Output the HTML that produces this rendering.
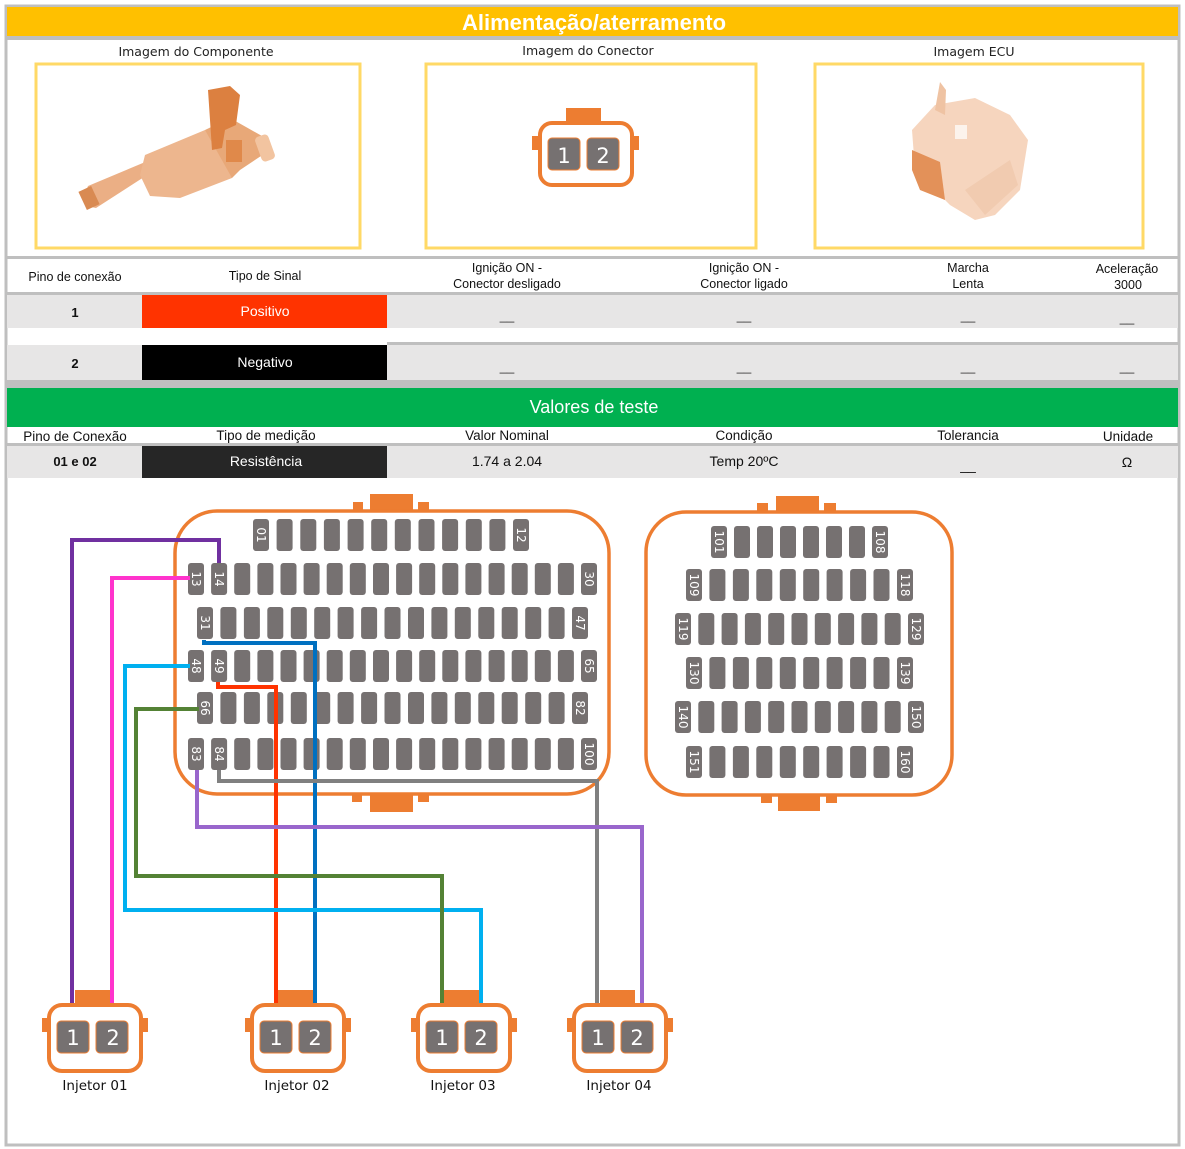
<!DOCTYPE html>
<html><head><meta charset="utf-8">
<style>
html,body{margin:0;padding:0;background:#fff;}
svg{display:block;font-family:"Liberation Sans",sans-serif;}
.c{font-family:"DejaVu Sans","Liberation Sans",sans-serif;}
</style></head>
<body>
<svg id="s" width="1185" height="1149" viewBox="0 0 1185 1149" xmlns="http://www.w3.org/2000/svg">
<!-- outer frame -->
<rect x="6" y="6" width="1173" height="1139" fill="#fff" stroke="#bfbfbf" stroke-width="3"/>
<!-- title bar -->
<rect x="7" y="7" width="1171" height="29" fill="#FFC000"/>
<rect x="7" y="36" width="1171" height="4" fill="#bfbfbf"/>
<text x="594" y="30" text-anchor="middle" font-size="22" font-weight="bold" fill="#fff">Alimentação/aterramento</text>
<!-- image labels -->
<text class="c" x="196" y="56" text-anchor="middle" font-size="12.5" fill="#222">Imagem do Componente</text>
<text class="c" x="588" y="55" text-anchor="middle" font-size="12.5" fill="#222">Imagem do Conector</text>
<text class="c" x="974" y="56" text-anchor="middle" font-size="12.5" fill="#222">Imagem ECU</text>
<rect x="36" y="64" width="324" height="184" fill="none" stroke="#FFD966" stroke-width="3"/>
<rect x="426" y="64" width="330" height="184" fill="none" stroke="#FFD966" stroke-width="3"/>
<rect x="815" y="64" width="328" height="184" fill="none" stroke="#FFD966" stroke-width="3"/>
<!-- injector image approximation -->
<g fill="#E9A572">
<polygon points="84,196 88,186 150,160 158,168 96,208 86,206" fill="#EBAF85"/>
<rect x="82" y="188" width="14" height="20" fill="#D98A52" transform="rotate(-25 89 198)"/>
<polygon points="140,175 145,155 205,130 230,140 232,178 180,198 150,196" fill="#EDB68E"/>
<polygon points="205,130 230,118 262,136 270,150 240,170 232,178" fill="#E8A878"/>
<rect x="258" y="135" width="14" height="26" rx="4" fill="#F2C4A0" transform="rotate(-20 265 148)"/>
<polygon points="208,90 230,86 240,95 236,125 225,130 222,148 212,150 210,120" fill="#DC8040"/>
<rect x="226" y="140" width="16" height="22" fill="#E0894A"/>
</g>
<!-- connector image -->
<g>
<rect x="566" y="108" width="35" height="16" fill="#ED7D31"/>
<rect x="532" y="136" width="8" height="14" fill="#ED7D31"/>
<rect x="631" y="136" width="8" height="14" fill="#ED7D31"/>
<rect x="540" y="123" width="92" height="62" rx="12" fill="#fff" stroke="#ED7D31" stroke-width="4"/>
<rect x="548" y="138" width="32" height="32" rx="4" fill="#767171" stroke="#ED7D31" stroke-width="1"/>
<rect x="587" y="138" width="32" height="32" rx="4" fill="#767171" stroke="#ED7D31" stroke-width="1"/>
<text class="c" x="564" y="163" text-anchor="middle" font-size="21" fill="#fff">1</text>
<text class="c" x="603" y="163" text-anchor="middle" font-size="21" fill="#fff">2</text>
</g>
<!-- ECU image approximation -->
<g>
<polygon points="912,130 935,105 975,98 1010,115 1028,140 1020,190 995,215 975,220 950,205 915,170" fill="#F6D5BE"/>
<polygon points="935,110 940,82 946,90 945,115" fill="#EFC3A3"/>
<polygon points="912,150 940,162 945,200 920,190 912,170" fill="#E39159"/>
<rect x="955" y="125" width="12" height="14" fill="#fff" opacity=".7"/>
<polygon points="965,190 1010,160 1018,185 985,215" fill="#F1CBB0"/>
</g>
<rect x="7" y="256" width="1171" height="3" fill="#bfbfbf"/>
<!-- table 1 header -->
<g font-size="12.5" fill="#111" text-anchor="middle">
<text x="75" y="281">Pino de conexão</text>
<text x="265" y="280">Tipo de Sinal</text>
<text x="507" y="272">Ignição ON -</text>
<text x="507" y="288">Conector desligado</text>
<text x="744" y="272">Ignição ON -</text>
<text x="744" y="288">Conector ligado</text>
<text x="968" y="272">Marcha</text>
<text x="968" y="288">Lenta</text>
<text x="1127" y="273">Aceleração</text>
<text x="1128" y="289">3000</text>
</g>
<rect x="7" y="292" width="1171" height="3" fill="#bfbfbf"/>
<rect x="7" y="295" width="1171" height="33" fill="#E7E6E6"/>
<rect x="142" y="295" width="245" height="33" fill="#FF3300"/>
<rect x="387" y="342" width="791" height="3" fill="#bfbfbf"/>
<rect x="7" y="345" width="1171" height="35" fill="#E7E6E6"/>
<rect x="142" y="345" width="245" height="35" fill="#000"/>
<rect x="7" y="380" width="1171" height="8" fill="#bfbfbf"/>
<g font-size="14" text-anchor="middle">
<text x="75" y="317" font-weight="bold" font-size="13" fill="#111">1</text>
<text x="265" y="316" fill="#fff">Positivo</text>
<text x="75" y="368" font-weight="bold" font-size="13" fill="#111">2</text>
<text x="265" y="367" fill="#fff">Negativo</text>
<g fill="#333" font-size="13">
<text x="507" y="320">__</text><text x="744" y="320">__</text><text x="968" y="320">__</text><text x="1127" y="322">__</text>
<text x="507" y="371">__</text><text x="744" y="371">__</text><text x="968" y="371">__</text><text x="1127" y="371">__</text>
</g>
</g>
<!-- green bar -->
<rect x="7" y="388" width="1171" height="39" fill="#00B050"/>
<text x="594" y="413" text-anchor="middle" font-size="18" fill="#fff">Valores de teste</text>
<g font-size="13.5" fill="#111" text-anchor="middle">
<text x="75" y="441">Pino de Conexão</text>
<text x="266" y="440">Tipo de medição</text>
<text x="507" y="440">Valor Nominal</text>
<text x="744" y="440">Condição</text>
<text x="968" y="440">Tolerancia</text>
<text x="1128" y="441">Unidade</text>
</g>
<rect x="7" y="443" width="1171" height="3" fill="#bfbfbf"/>
<rect x="7" y="446" width="1171" height="32" fill="#E7E6E6"/>
<rect x="142" y="446" width="245" height="32" fill="#262626"/>
<g font-size="14" text-anchor="middle" fill="#111">
<text x="75" y="466" font-weight="bold" font-size="13">01 e 02</text>
<text x="266" y="466" fill="#fff">Resistência</text>
<text x="507" y="466">1.74 a 2.04</text>
<text x="744" y="466">Temp 20ºC</text>
<text x="968" y="470">__</text>
<text x="1127" y="467">Ω</text>
</g>

<!-- ECU connector 1 outline -->
<g fill="#ED7D31">
<rect x="370" y="494" width="43" height="18"/><rect x="353" y="502" width="10" height="10"/><rect x="418" y="502" width="11" height="10"/>
<rect x="370" y="794" width="43" height="18"/><rect x="352" y="794" width="10" height="8"/><rect x="418" y="794" width="11" height="8"/>
<rect x="776" y="496" width="43" height="17"/><rect x="757" y="503" width="11" height="10"/><rect x="824" y="503" width="12" height="10"/>
<rect x="778" y="795" width="42" height="16"/><rect x="761" y="795" width="11" height="8"/><rect x="826" y="795" width="11" height="8"/>
</g>
<rect x="175" y="511" width="434" height="283" rx="42" fill="#fff" stroke="#ED7D31" stroke-width="3.5"/>
<rect x="646" y="512" width="306" height="283" rx="40" fill="#fff" stroke="#ED7D31" stroke-width="3.5"/>
<g id="pins" fill="#767171"></g>

<!-- wires -->
<g fill="none" stroke-width="4">
<polyline points="219,563 219,540 72,540 72,1022" stroke="#7030A0"/>
<polyline points="190,578 112,578 112,1022" stroke="#FF33CC"/>
<polyline points="204,640 204,643 315,643 315,1022" stroke="#0070C0"/>
<polyline points="218,682 218,687 276,687 276,1022" stroke="#FF3300"/>
<polyline points="190,666 125,666 125,910 481,910 481,1022" stroke="#00B0F0"/>
<polyline points="199,709 136,709 136,876 442,876 442,1022" stroke="#548235"/>
<polyline points="219,770 219,781 597,781 597,1022" stroke="#808080"/>
<polyline points="197,770 197,827 642,827 642,1022" stroke="#9966CC"/>
</g>

<!-- pin labels -->
<g font-size="12" fill="#fff" class="c">
<text transform="translate(257,535) rotate(90)" text-anchor="middle">01</text>
<text transform="translate(517,535) rotate(90)" text-anchor="middle">12</text>
<text transform="translate(192,579) rotate(90)" text-anchor="middle">13</text>
<text transform="translate(215,579) rotate(90)" text-anchor="middle">14</text>
<text transform="translate(585,579) rotate(90)" text-anchor="middle">30</text>
<text transform="translate(201,623) rotate(90)" text-anchor="middle">31</text>
<text transform="translate(576,623) rotate(90)" text-anchor="middle">47</text>
<text transform="translate(192,666) rotate(90)" text-anchor="middle">48</text>
<text transform="translate(215,666) rotate(90)" text-anchor="middle">49</text>
<text transform="translate(585,666) rotate(90)" text-anchor="middle">65</text>
<text transform="translate(201,708) rotate(90)" text-anchor="middle">66</text>
<text transform="translate(576,708) rotate(90)" text-anchor="middle">82</text>
<text transform="translate(192,754) rotate(90)" text-anchor="middle">83</text>
<text transform="translate(215,754) rotate(90)" text-anchor="middle">84</text>
<text transform="translate(585,754) rotate(90)" text-anchor="middle">100</text>
<text transform="translate(715,542) rotate(90)" text-anchor="middle">101</text>
<text transform="translate(876,542) rotate(90)" text-anchor="middle">108</text>
<text transform="translate(690,585) rotate(90)" text-anchor="middle">109</text>
<text transform="translate(901,585) rotate(90)" text-anchor="middle">118</text>
<text transform="translate(679,629) rotate(90)" text-anchor="middle">119</text>
<text transform="translate(912,629) rotate(90)" text-anchor="middle">129</text>
<text transform="translate(690,673) rotate(90)" text-anchor="middle">130</text>
<text transform="translate(901,673) rotate(90)" text-anchor="middle">139</text>
<text transform="translate(679,717) rotate(90)" text-anchor="middle">140</text>
<text transform="translate(912,717) rotate(90)" text-anchor="middle">150</text>
<text transform="translate(690,762) rotate(90)" text-anchor="middle">151</text>
<text transform="translate(901,762) rotate(90)" text-anchor="middle">160</text>
</g>

<!-- injectors -->
<g id="inj"></g>
<g class="c" font-size="13.5" fill="#111" text-anchor="middle">
<text x="95" y="1090">Injetor 01</text>
<text x="297" y="1090">Injetor 02</text>
<text x="463" y="1090">Injetor 03</text>
<text x="619" y="1090">Injetor 04</text>
</g>
<g class="c" font-size="21" fill="#fff" text-anchor="middle">
<text x="73" y="1045">1</text><text x="113" y="1045">2</text>
<text x="276" y="1045">1</text><text x="315" y="1045">2</text>
<text x="442" y="1045">1</text><text x="481" y="1045">2</text>
<text x="598" y="1045">1</text><text x="637" y="1045">2</text>
</g>
</svg>
<script>
var NS="http://www.w3.org/2000/svg";
var pins=document.getElementById("pins");
function r(p,x,y,w,h,rx,f,st){var e=document.createElementNS(NS,"rect");e.setAttribute("x",x);e.setAttribute("y",y);e.setAttribute("width",w);e.setAttribute("height",h);e.setAttribute("rx",rx);e.setAttribute("fill",f);if(st){e.setAttribute("stroke",st);e.setAttribute("stroke-width",st=="#ED7D31"&&w>40?4:1);if(w>40)e.setAttribute("fill","#fff");}p.insertBefore(e,p.firstChild&&p===inj?null:null);p.appendChild(e);}
var rows=[[253,23.64,12,519],[188,23.12,18,563],[197,23.44,17,607],[188,23.12,18,650],[197,23.44,17,692],[188,23.12,18,738],
[711,23,8,526],[686,23.44,10,569],[675,23.3,11,613],[686,23.44,10,657],[675,23.3,11,701],[686,23.44,10,746]];
rows.forEach(function(a){for(var i=0;i<a[2];i++)r(pins,(a[0]+i*a[1]).toFixed(1),a[3],16,32,3,"#767171");});
var inj=document.getElementById("inj");
[47,250,416,572].forEach(function(L){
 r(inj,L+28,990,35,15,0,"#ED7D31");
 r(inj,L-5,1018,8,14,0,"#ED7D31");
 r(inj,L+93,1018,8,14,0,"#ED7D31");
 r(inj,L+2,1005,92,66,13,"#fff","#ED7D31");
 r(inj,L+10,1021,32,32,4,"#767171","#ED7D31");
 r(inj,L+49,1021,32,32,4,"#767171","#ED7D31");
});
// move wires above connector bodies but ensure wire ends under injector pins? keep injector on top
var s=document.getElementById("s");s.appendChild(inj);
var labs=document.querySelectorAll("g.c");labs.forEach(function(g){s.appendChild(g);});
</script>
</body></html>
